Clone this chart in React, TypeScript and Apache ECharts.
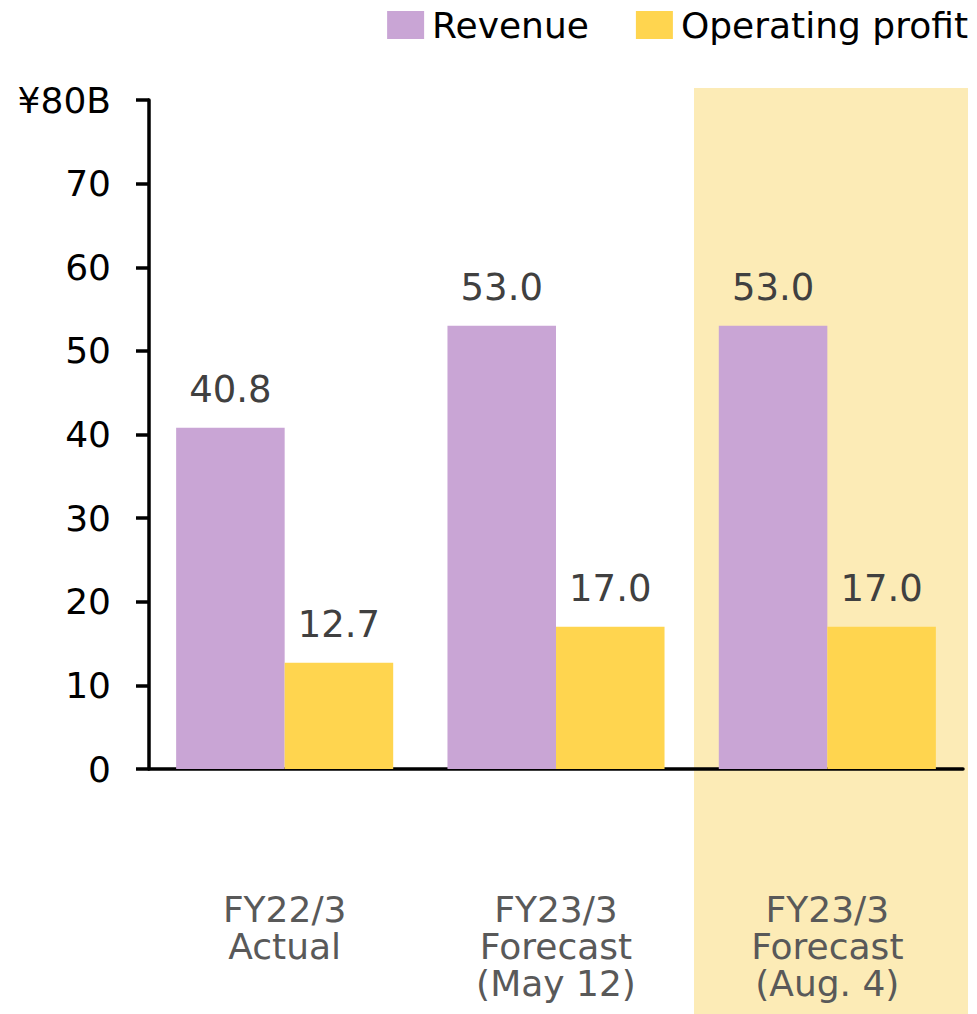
import React, { useEffect, useRef } from "react";
import * as echarts from "echarts";

const categories = ["FY22/3\nActual", "FY23/3\nForecast\n(May 12)", "FY23/3\nForecast\n(Aug. 4)"];
const revenue = [40.8, 53.0, 53.0];
const operatingProfit = [12.7, 17.0, 17.0];
const yTicks = [0, 10, 20, 30, 40, 50, 60, 70, 80];

const FONT = "DejaVu Sans";

export default function App() {
  const ref = useRef<HTMLDivElement>(null);
  useEffect(() => {
    if (!ref.current) return;
    const chart = echarts.init(ref.current, undefined, { renderer: "svg" });
    const label = {
      show: true,
      position: "top",
      distance: 20,
      fontSize: 37,
      color: "#404040",
      fontFamily: FONT,
      formatter: (p: any) => Number(p.value).toFixed(1),
    };
    chart.setOption({
      animation: false,
      textStyle: { fontFamily: FONT },
      legend: {
        right: 4,
        top: 2,
        icon: "rect",
        itemWidth: 37,
        itemHeight: 28,
        itemGap: 47,
        textStyle: { fontSize: 36, color: "#000", fontFamily: FONT, padding: [0, 0, 0, 3] },
        data: ["Revenue", "Operating profit"],
      },
      graphic: [
        {
          type: "rect",
          z: -10,
          shape: { x: 694, y: 88, width: 274, height: 930 },
          style: { fill: "#FCEBB6" },
          silent: true,
        },
      ],
      grid: { left: 149, right: 14, top: 100, bottom: 245, containLabel: false },
      xAxis: {
        type: "category",
        data: categories,
        axisLine: { show: true, lineStyle: { color: "#000", width: 3.5 } },
        axisTick: { show: false },
        axisLabel: {
          margin: 122,
          fontSize: 36,
          lineHeight: 37,
          color: "#595959",
          fontFamily: FONT,
          interval: 0,
        },
      },
      yAxis: {
        type: "value",
        min: yTicks[0],
        max: yTicks[yTicks.length - 1],
        interval: 10,
        splitLine: { show: false },
        axisLine: { show: true, lineStyle: { color: "#000", width: 3.5 } },
        axisTick: { show: true, length: 13, lineStyle: { color: "#000", width: 3.5 } },
        axisLabel: {
          margin: 38,
          fontSize: 36,
          color: "#000",
          fontFamily: FONT,
          formatter: (v: number) => (v === 80 ? "¥80B" : String(v)),
        },
      },
      series: [
        {
          name: "Revenue",
          type: "bar",
          data: revenue,
          barWidth: "40%",
          barGap: "0%",
          itemStyle: { color: "#C9A5D5" },
          label,
        },
        {
          name: "Operating profit",
          type: "bar",
          data: operatingProfit,
          barWidth: "40%",
          barGap: "0%",
          itemStyle: { color: "#FFD54F" },
          label,
        },
      ],
    });
    return () => chart.dispose();
  }, []);
  return <div ref={ref} style={{ width: 977, height: 1014, position: "absolute", left: 0, top: 0 }} />;
}
